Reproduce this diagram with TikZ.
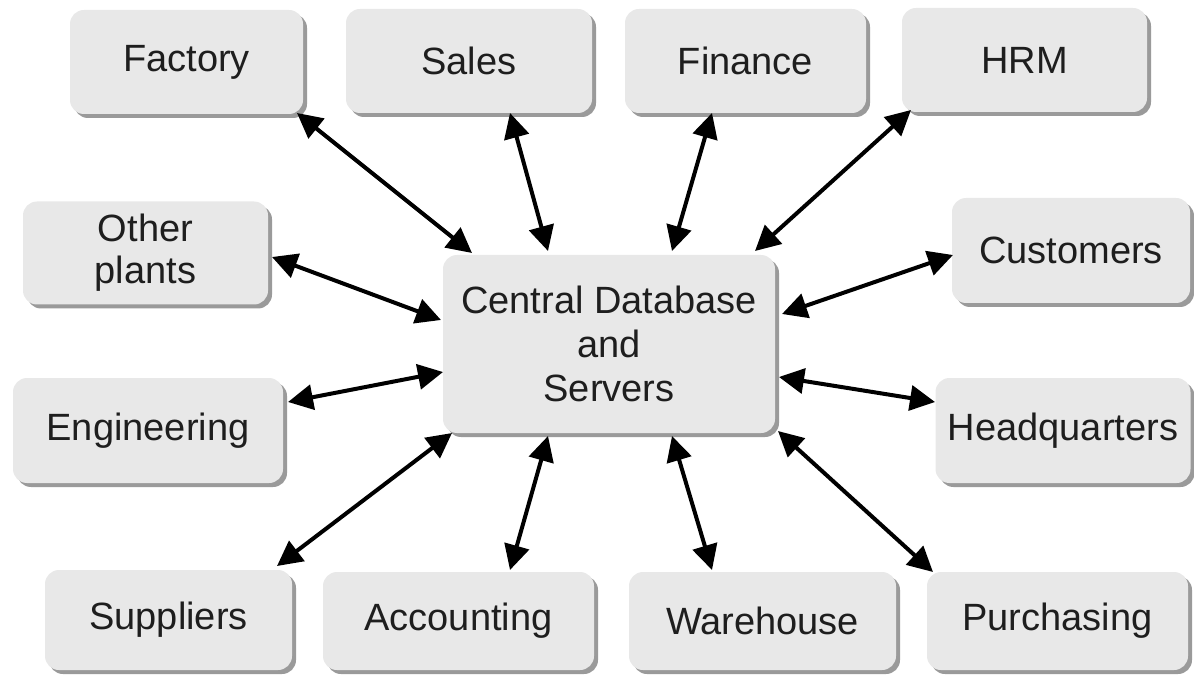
\documentclass[tikz,border=0pt]{standalone}
\usepackage{fontspec}
\setmainfont{Liberation Sans}
\usetikzlibrary{arrows.meta,shadows}
\definecolor{boxfill}{HTML}{E8E8E8}
\definecolor{boxshade}{HTML}{9A9A9A}
\definecolor{ink}{HTML}{1E1E1E}
\begin{document}
\begin{tikzpicture}[x=1pt,y=-1pt,
  unit/.style={fill=boxfill, draw=none, rounded corners=14pt,
    drop shadow={shadow xshift=4pt, shadow yshift=-4pt, fill=boxshade, opacity=1},
    text=ink, align=center, inner sep=0pt,
    font=\fontsize{38}{42}\selectfont},
  link/.style={line width=4pt, draw=black,
    {Triangle[length=25pt,width=25pt]}-{Triangle[length=25pt,width=25pt]}}]
\useasboundingbox (0,0) rectangle (1194,676);

% departments around the hub
\node[unit, minimum width=233pt, minimum height=104pt] (factory) at (186.5,62) {Factory};
\node[unit, minimum width=246pt, minimum height=104pt] (sales) at (469,61) {Sales};
\node[unit, minimum width=241pt, minimum height=104pt] (finance) at (745.5,61) {Finance};
\node[unit, minimum width=245pt, minimum height=104pt] (hrm) at (1024.5,60) {HRM};
\node[unit, minimum width=245pt, minimum height=103pt] (plants) at (145.5,253) {Other\\plants};
\node[unit, minimum width=238pt, minimum height=105pt] (customers) at (1071,250.5) {Customers};
\node[unit, minimum width=270pt, minimum height=105pt] (engineering) at (148,430.5) {Engineering};
\node[unit, minimum width=255pt, minimum height=105pt] (hq) at (1063,430.5) {Headquarters};
\node[unit, minimum width=247pt, minimum height=100pt] (suppliers) at (168.5,620) {Suppliers};
\node[unit, minimum width=271pt, minimum height=98pt] (accounting) at (458.5,621) {Accounting};
\node[unit, minimum width=267pt, minimum height=98pt] (warehouse) at (762.5,621) {Warehouse};
\node[unit, minimum width=261pt, minimum height=98pt] (purchasing) at (1057.5,621) {Purchasing};

% the hub
\node[unit, minimum width=332pt, minimum height=178pt, font=\fontsize{38}{44}\selectfont]
  (central) at (609,344) {Central Database\\and\\Servers};

% arrow ends
\coordinate (factoryE) at (297,113);   \coordinate (centralF) at (472,253);
\coordinate (salesE) at (510,113);     \coordinate (centralS) at (548,251);
\coordinate (financeE) at (712,113);   \coordinate (centralN) at (672,251);
\coordinate (hrmE) at (911,110);       \coordinate (centralH) at (755,251);
\coordinate (plantsE) at (272,257);    \coordinate (centralP) at (441,320);
\coordinate (customersE) at (953,255); \coordinate (centralC) at (782,314);
\coordinate (engE) at (288,402);       \coordinate (centralE) at (443,372);
\coordinate (hqE) at (935,402);        \coordinate (centralQ) at (779,377);
\coordinate (suppliersE) at (277,566); \coordinate (centralU) at (452,433);
\coordinate (accountingE) at (510,570);\coordinate (centralA) at (548,436);
\coordinate (warehouseE) at (712,570); \coordinate (centralW) at (672,436);
\coordinate (purchasingE) at (933,572);\coordinate (centralR) at (778,431);

\draw[link] (factoryE) -- (centralF);
\draw[link] (salesE) -- (centralS);
\draw[link] (financeE) -- (centralN);
\draw[link] (hrmE) -- (centralH);
\draw[link] (plantsE) -- (centralP);
\draw[link] (customersE) -- (centralC);
\draw[link] (engE) -- (centralE);
\draw[link] (hqE) -- (centralQ);
\draw[link] (suppliersE) -- (centralU);
\draw[link] (accountingE) -- (centralA);
\draw[link] (warehouseE) -- (centralW);
\draw[link] (purchasingE) -- (centralR);
\end{tikzpicture}
\end{document}
